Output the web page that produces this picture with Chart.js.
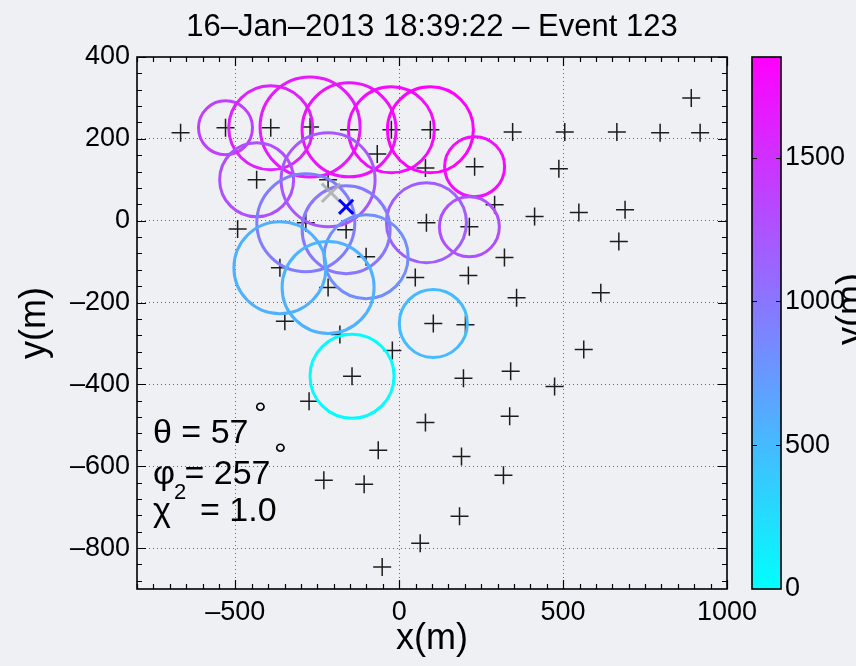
<!DOCTYPE html>
<html>
<head>
<meta charset="utf-8">
<script src="https://cdn.jsdelivr.net/npm/chart.js@4.4.1/dist/chart.umd.min.js"></script>
<style>
    html, body { margin: 0; padding: 0; background: #eef0f3; }
    canvas { display: block; }
</style>
</head>
<body>
<canvas id="graficoEvento" width="856" height="666"></canvas>
<script>
// Posiciones de los detectores (m)
const detX = [-667, -530, -392, -272, -153, -24, 95, 346, 505, 664, 796, 918, 891,
              -67, 80, 230, 487, -435, -217, -493, -285, -162, 83, 214, 291, 413, 548, 689,
              670, -101, -364, -217, 49, 211, 321, 358, 615, -349, -181, 104, 202, -21, 563,
              -144, 340, 196, 474, -275, 80, 337, -64, 190, 318, -230, -107, 184, 64, -52];
const detY = [215, 227, 227, 229, 222, 222, 222, 217, 217, 217, 215, 215, 300,
              163, 129, 132, 127, 100, 100, -20, -5, -22, -5, -15, 39, 10, 20, 27,
              -51, -88, -115, -163, -139, -134, -90, -188, -176, -246, -278, -251, -254, -317, -315,
              -380, -368, -385, -405, -441, -493, -478, -561, -576, -622, -634, -644, -722, -788, -846];

// Detectores con senal: tamano del circulo y tiempo (escala de colores)
const hitX = [-530, -392, -272, -153, -24, 95, 230, -435, -217, 83, 214, -285, -162, -101, -364, -217, 104, -144];
const hitY = [227, 227, 229, 222, 222, 222, 132, 100, 100, -5, -15, -5, -22, -88, -115, -163, -251, -380];
const hitSize = [27, 42, 50, 47, 43, 43, 30, 37, 47, 40, 30, 49, 44, 42, 46, 46, 34, 42];
const hitTime = [1390, 1620, 1660, 1720, 1770, 1840, 1760, 1280, 1220, 1170, 1280, 940, 980, 820, 570, 560, 500, 30];

// Nucleo reconstruido y estimacion inicial
const coreX = [-162];
const coreY = [34];
const guessX = [-208];
const guessY = [68];

// Ejes y barra de colores
const xTicks = [-500, 0, 500, 1000];
const yTicks = [-800, -600, -400, -200, 0, 200, 400];
const cbTicks = [0, 500, 1000, 1500];
const cbMax = 1850;

const titulo = '16\u2013Jan\u20132013 18:39:22 \u2013 Event 123';
const theta = 57;
const phi = 257;
const chi2 = '1.0';

const fuente = "'Liberation Sans', Arial, Helvetica, sans-serif";

//Mapa de colores "cool": cian -> magenta
function colorCool(v) {
    let t = Math.min(1, Math.max(0, v / cbMax));
    return 'rgb(' + Math.round(255 * t) + ',' + Math.round(255 * (1 - t)) + ',255)';
}

function etiqueta(v) {
    return v < 0 ? '\u2013' + Math.abs(v) : String(v);
}

function soloTicks(lista) {
    return function (scale) {
        scale.ticks = lista.map(v => ({ value: v }));
    };
}

//Se fija el tamano de cada eje y se quita el relleno extra de las etiquetas
function fijarTamano(prop, valor) {
    return function (s) {
        s[prop] = valor;
        s.paddingTop = 0;
        s.paddingBottom = 0;
        s.paddingLeft = 0;
        s.paddingRight = 0;
    };
}

const fondoYMarco = {
    id: 'fondoYMarco',
    beforeDraw: function (chart) {
        const c = chart.ctx;
        c.save();
        c.fillStyle = '#eef0f3';
        c.fillRect(0, 0, chart.width, chart.height);
        c.restore();
    },
    afterDraw: function (chart) {
        const c = chart.ctx;
        const a = chart.chartArea;
        const sx = chart.scales.x, sy = chart.scales.y, cb = chart.scales.cb;
        c.save();

        //Marcas hacia adentro en los cuatro lados
        c.strokeStyle = '#000';
        c.lineWidth = 1.2;
        c.beginPath();
        for (let v = -800; v <= 1000; v += 50) {
            const px = Math.round(sx.getPixelForValue(v)) + 0.5;
            const len = v % 500 === 0 ? 9 : 5;
            c.moveTo(px, a.bottom); c.lineTo(px, a.bottom - len);
            c.moveTo(px, a.top); c.lineTo(px, a.top + len);
        }
        for (let v = -880; v <= 400; v += 40) {
            const py = Math.round(sy.getPixelForValue(v)) + 0.5;
            const len = v % 200 === 0 ? 9 : 5;
            c.moveTo(a.left, py); c.lineTo(a.left + len, py);
            c.moveTo(a.right, py); c.lineTo(a.right - len, py);
        }
        c.stroke();
        c.lineWidth = 1.6;
        c.strokeRect(a.left, a.top, a.right - a.left, a.bottom - a.top);

        //Barra de colores
        const x0 = cb.left + 25, ancho = 29;
        const yTop = cb.getPixelForValue(cbMax), yBot = cb.getPixelForValue(0);
        const grad = c.createLinearGradient(0, yBot, 0, yTop);
        grad.addColorStop(0, colorCool(0));
        grad.addColorStop(0.5, colorCool(cbMax / 2));
        grad.addColorStop(1, colorCool(cbMax));
        c.fillStyle = grad;
        c.fillRect(x0, yTop, ancho, yBot - yTop);
        c.lineWidth = 1.2;
        c.beginPath();
        cbTicks.forEach(v => {
            if (v === 0) return;
            const py = Math.round(cb.getPixelForValue(v)) + 0.5;
            c.moveTo(x0, py); c.lineTo(x0 + 5, py);
            c.moveTo(x0 + ancho, py); c.lineTo(x0 + ancho - 5, py);
        });
        c.stroke();
        c.lineWidth = 1.6;
        c.strokeRect(x0, yTop, ancho, yBot - yTop);

        //Titulo
        c.fillStyle = '#000';
        c.textAlign = 'center';
        c.textBaseline = 'middle';
        c.font = '31px ' + fuente;
        c.fillText(titulo, (a.left + a.right) / 2, 27);

        //Textos de los angulos
        c.textAlign = 'left';
        c.textBaseline = 'alphabetic';
        const tx = a.left + 16;
        c.font = '34px ' + fuente;
        c.fillText('\u03b8 = ' + theta, tx, 443);
        c.fillText('\u03c6 = ' + phi, tx, 484);
        c.fillText('\u03c7', tx, 521);
        c.fillText('= ' + chi2, tx + 47, 521);
        c.font = '22px ' + fuente;
        c.fillText('2', tx + 21, 499);
        c.font = '32px ' + fuente;
        c.fillText('\u00b0', tx + 101, 424);
        c.fillText('\u00b0', tx + 121, 465);

        //Etiqueta recortada a la derecha
        c.font = '36px ' + fuente;
        c.translate(852, 309);
        c.rotate(-Math.PI / 2);
        c.textAlign = 'center';
        c.textBaseline = 'middle';
        c.fillText('y(m)', 0, 0);
        c.restore();
    }
};

Chart.defaults.font.family = fuente;
Chart.defaults.color = '#000';

const deteccion = detX.map((x, i) => ({ x: x, y: detY[i] }));
const circulos = hitX.map((x, i) => ({ x: x, y: hitY[i], r: hitSize[i] }));

new Chart('graficoEvento', {
    type: 'scatter',
    data: {
        datasets: [
            {
                data: coreX.map((x, i) => ({ x: x, y: coreY[i] })),
                pointStyle: 'crossRot',
                radius: 10,
                borderWidth: 3,
                borderColor: '#0000ff'
            },
            {
                data: guessX.map((x, i) => ({ x: x, y: guessY[i] })),
                pointStyle: 'crossRot',
                radius: 13,
                borderWidth: 3,
                borderColor: 'rgba(170,170,170,0.85)'
            },
            {
                type: 'bubble',
                data: circulos,
                backgroundColor: 'rgba(0,0,0,0)',
                borderColor: ctx => colorCool(hitTime[ctx.dataIndex]),
                borderWidth: 3
            },
            {
                data: deteccion,
                pointStyle: 'cross',
                radius: 9,
                borderWidth: 1.5,
                borderColor: '#1c1c1c'
            }
        ]
    },
    options: {
        responsive: false,
        animation: false,
        events: [],
        layout: { padding: { top: 57, left: 0, right: 0, bottom: 0 } },
        plugins: {
            legend: { display: false },
            tooltip: { enabled: false },
            title: { display: false }
        },
        scales: {
            x: {
                type: 'linear',
                min: -800,
                max: 1000,
                afterBuildTicks: soloTicks(xTicks),
                afterFit: fijarTamano('height', 77),
                grid: {
                    drawTicks: false,
                    color: ctx => (ctx.tick && (ctx.tick.value === 1000)) ? 'rgba(0,0,0,0)' : 'rgba(60,60,60,0.75)'
                },
                border: { display: false, dash: [1, 3] },
                ticks: {
                    padding: 7,
                    autoSkip: false,
                    maxRotation: 0,
                    font: { size: 27 },
                    callback: v => etiqueta(v)
                },
                title: {
                    display: true,
                    text: 'x(m)',
                    font: { size: 36 },
                    padding: { top: 0, bottom: 5 }
                }
            },
            y: {
                type: 'linear',
                position: 'left',
                min: -900,
                max: 400,
                afterBuildTicks: soloTicks(yTicks),
                afterFit: fijarTamano('width', 137),
                grid: {
                    drawTicks: false,
                    color: ctx => (ctx.tick && (ctx.tick.value === 400)) ? 'rgba(0,0,0,0)' : 'rgba(60,60,60,0.75)'
                },
                border: { display: false, dash: [1, 3] },
                ticks: {
                    padding: 7,
                    autoSkip: false,
                    font: { size: 27 },
                    callback: v => etiqueta(v)
                },
                title: {
                    display: true,
                    text: 'y(m)',
                    font: { size: 36 },
                    padding: { top: 13, bottom: 0 }
                }
            },
            cb: {
                type: 'linear',
                position: 'right',
                min: 0,
                max: cbMax,
                afterBuildTicks: soloTicks(cbTicks),
                afterFit: fijarTamano('width', 129),
                grid: { display: false, drawTicks: false },
                border: { display: false },
                ticks: {
                    padding: 58,
                    autoSkip: false,
                    font: { size: 27 },
                    callback: v => String(v)
                }
            }
        }
    },
    plugins: [fondoYMarco]
});
</script>
</body>
</html>
